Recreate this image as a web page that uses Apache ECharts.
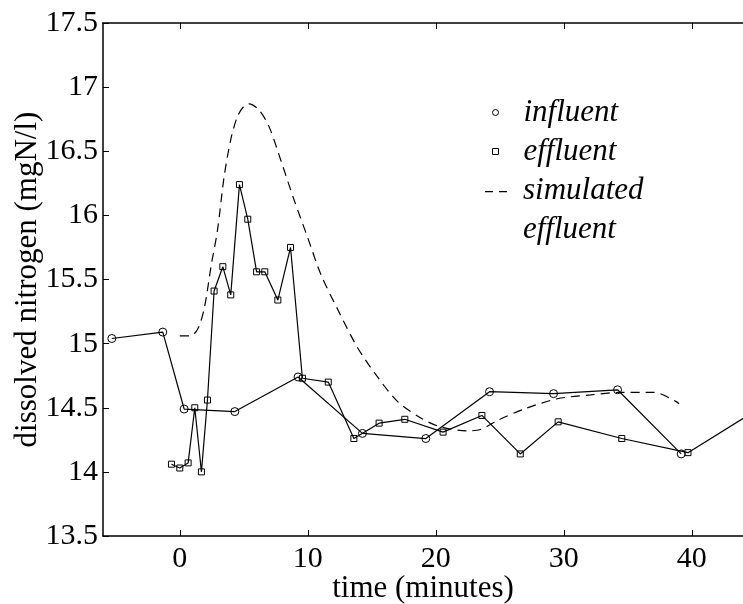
<!DOCTYPE html>
<html>
<head>
<meta charset="utf-8">
<script src="https://cdn.jsdelivr.net/npm/echarts@6/dist/echarts.min.js"></script>
<style>
  html, body { margin: 0; padding: 0; background: #fff; }
  #chart { width: 743px; height: 604px; }
</style>
</head>
<body>
<div id="chart"></div>
<script>
// influent samples (circles)
const inflTime  = [-5.31, -1.33, 0.34, 4.3, 9.24, 14.27, 19.22, 24.2, 29.2, 34.2, 39.17];
const inflValue = [15.04, 15.09, 14.49, 14.47, 14.74, 14.30, 14.26, 14.625, 14.61, 14.64, 14.14];

// effluent samples (squares)
const efflTime  = [-0.65, 0.0, 0.65, 1.17, 1.69, 2.16, 2.68, 3.36, 3.98, 4.66, 5.31, 6.0, 6.64, 7.66, 8.65,
                   9.58, 11.6, 13.6, 15.57, 17.58, 20.57, 23.6, 26.6, 29.56, 34.53, 39.7, 44.7];
const efflValue = [14.06, 14.03, 14.07, 14.50, 14.00, 14.56, 15.41, 15.60, 15.38, 16.24, 15.97, 15.56, 15.56, 15.34, 15.75,
                   14.73, 14.70, 14.26, 14.38, 14.41, 14.31, 14.44, 14.14, 14.39, 14.26, 14.15, 14.46];

// simulated effluent (dashed)
const simTime  = [0, 0.8, 1.38, 1.9, 2.47, 2.94, 3.46, 3.98, 4.5, 5.0, 5.42, 6.2, 6.98, 7.89, 8.93, 9.98,
                  11.02, 12.32, 13.88, 15.45, 17.0, 18.83, 20.4, 22.5, 23.5, 24.8, 26.9, 29.5, 32.1, 34.45, 37.05, 38.75, 39.0];
const simValue = [15.06, 15.06, 15.11, 15.27, 15.62, 15.88, 16.30, 16.59, 16.77, 16.85, 16.87, 16.82, 16.69, 16.43, 16.12, 15.83,
                  15.54, 15.27, 14.97, 14.74, 14.55, 14.42, 14.35, 14.32, 14.33, 14.40, 14.49, 14.57, 14.60, 14.62, 14.62, 14.55, 14.53];

const xTicks = [0, 10, 20, 30, 40];

const pairs = (xs, ys) => xs.map((x, i) => [x, ys[i]]);

const serif = "'Liberation Serif', 'DejaVu Serif', serif";
const black = "#000";

let myChart = echarts.init(document.getElementById("chart"), null, { renderer: "canvas" });

let legendText = {
  fontFamily: serif, fontStyle: "italic", fontSize: 31, color: black, lineHeight: 39
};

let option = {
  backgroundColor: "#fff",
  animation: false,
  grid: { left: 103, right: 0, top: 23, bottom: 68, outerBoundsMode: "none" },
  legend: [
    {
      // markers only
      orient: "vertical",
      left: 492,
      top: 93,
      padding: 0,
      itemGap: 0,
      itemWidth: 6,
      itemHeight: 6,
      selectedMode: false,
      textStyle: Object.assign({ padding: [0, 0, 0, 20] }, legendText),
      data: [
        { name: "influent", icon: "circle",
          itemStyle: { color: "#fff", borderColor: black, borderWidth: 1 } },
        { name: "effluent", icon: "rect",
          itemStyle: { color: "#fff", borderColor: black, borderWidth: 1 } }
      ]
    },
    {
      // dashed entry, two-line label; icon sits at the top of a 25x39 box
      orient: "vertical",
      left: 482,
      top: 171.5,
      padding: 0,
      itemWidth: 25,
      itemHeight: 39,
      selectedMode: false,
      textStyle: Object.assign({ padding: [0, 0, 0, 11] }, legendText),
      data: [
        { name: "simulated\neffluent",
          icon: "path://M0,0h0.01v0.01h-0.01zM3,0h8v1.3h-8zM17,0h8v1.3h-8zM25,39h0.01v0.01h-0.01z",
          itemStyle: { color: black, borderWidth: 0 } }
      ]
    }
  ],
  xAxis: [
    {
      type: "value", position: "bottom", min: -6, max: 44,
      axisLine: { show: true, onZero: false, lineStyle: { color: black, width: 1.5 } },
      axisTick: { show: true, inside: true, length: 6, customValues: xTicks, lineStyle: { color: black } },
      axisLabel: { customValues: xTicks, margin: 8, fontFamily: serif, fontSize: 30, color: black },
      splitLine: { show: false },
      name: "time (minutes)", nameLocation: "middle", nameGap: 37, nameMoveOverlap: false,
      nameTextStyle: { fontFamily: serif, fontSize: 31, color: black }
    },
    {
      type: "value", position: "top", min: -6, max: 44,
      axisLine: { show: true, onZero: false, lineStyle: { color: black, width: 1.5 } },
      axisTick: { show: true, inside: true, length: 6, customValues: xTicks, lineStyle: { color: black } },
      axisLabel: { show: false },
      splitLine: { show: false }
    }
  ],
  yAxis: {
    type: "value", min: 13.5, max: 17.5, interval: 0.5,
    axisLine: { show: true, onZero: false, lineStyle: { color: black, width: 1.5 } },
    axisTick: { show: true, inside: true, length: 6, lineStyle: { color: black } },
    axisLabel: { margin: 5, fontFamily: serif, fontSize: 30, color: black },
    splitLine: { show: false },
    name: "dissolved nitrogen (mgN/l)", nameLocation: "middle", nameGap: 60, nameMoveOverlap: false,
    nameTextStyle: { fontFamily: serif, fontSize: 31, color: black }
  },
  series: [
    {
      name: "influent", type: "line", xAxisIndex: 0,
      data: pairs(inflTime, inflValue),
      symbol: "circle", symbolSize: 8,
      itemStyle: { color: "rgba(0,0,0,0)", borderColor: black, borderWidth: 1 },
      lineStyle: { color: black, width: 1.2 }
    },
    {
      name: "effluent", type: "line", xAxisIndex: 0,
      data: pairs(efflTime, efflValue),
      symbol: "rect", symbolSize: 6,
      itemStyle: { color: "rgba(0,0,0,0)", borderColor: black, borderWidth: 1 },
      lineStyle: { color: black, width: 1.2 }
    },
    {
      name: "simulated\neffluent", type: "line", xAxisIndex: 0,
      data: pairs(simTime, simValue),
      symbol: "none", smooth: 0.3,
      itemStyle: { color: black },
      lineStyle: { color: black, width: 1.2, type: [9, 6] }
    }
  ]
};

myChart.setOption(option);
</script>
</body>
</html>
